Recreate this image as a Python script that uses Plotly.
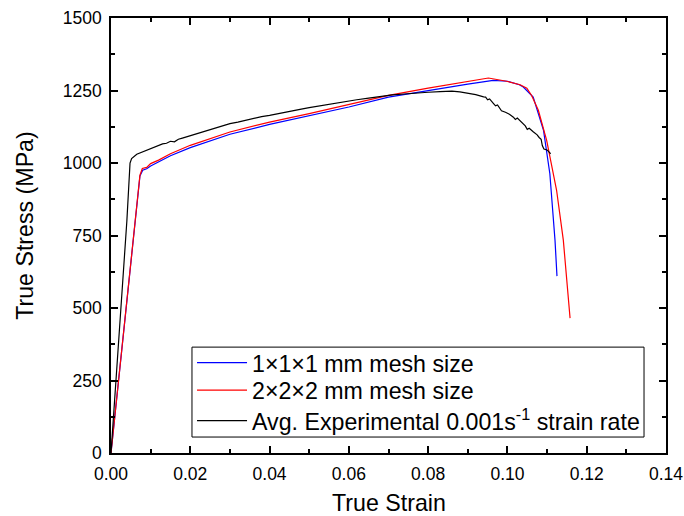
import plotly.graph_objects as go

# ---- data ----
exp_strain = [0.0, 0.0010, 0.0025, 0.0040, 0.0048, 0.0052, 0.0065, 0.0080, 0.0095, 0.0110,
              0.0120, 0.0130, 0.0140, 0.0150, 0.0160, 0.0170, 0.0180, 0.0190, 0.0200, 0.0220,
              0.0240, 0.0260, 0.0280, 0.0300, 0.0320, 0.0340, 0.0360, 0.0380, 0.0400, 0.0420,
              0.0440, 0.0460, 0.0480, 0.0500, 0.0530, 0.0560, 0.0590, 0.0620, 0.0650, 0.0680,
              0.0710, 0.0740, 0.0770, 0.0800, 0.0830, 0.0860, 0.0880, 0.0900, 0.0920, 0.0940,
              0.0945, 0.0950, 0.0955, 0.0965, 0.0970, 0.0975, 0.0985, 0.0995, 0.1005, 0.1015,
              0.1020, 0.1025, 0.1035, 0.1040, 0.1045, 0.1050, 0.1055, 0.1065, 0.1075, 0.1080,
              0.1085, 0.1088, 0.1092, 0.1100, 0.1109]
exp_stress = [0, 200, 500, 800, 1000, 1015, 1030, 1038, 1045, 1055,
              1058, 1066, 1068, 1075, 1073, 1082, 1086, 1090, 1095, 1102,
              1112, 1120, 1128, 1136, 1141, 1148, 1155, 1160, 1164, 1170,
              1176, 1181, 1186, 1191, 1198, 1205, 1213, 1218, 1224, 1230,
              1235, 1238, 1242, 1244, 1246, 1248, 1245, 1240, 1236, 1228,
              1227, 1218, 1221, 1205, 1197, 1200, 1180, 1175, 1168, 1158,
              1150, 1155, 1140, 1132, 1128, 1116, 1120, 1108, 1097, 1088,
              1082, 1060, 1048, 1045, 1032]

mesh2_strain = [0.0, 0.0073, 0.0079, 0.0090, 0.0100, 0.0120, 0.0150, 0.0200, 0.0300, 0.0400,
                0.0500, 0.0600, 0.0700, 0.0800, 0.0900, 0.0952, 0.0998, 0.1032, 0.1049, 0.1061,
                0.1078, 0.1099, 0.1124, 0.1141, 0.1158]
mesh2_stress = [0, 958, 981, 985, 998, 1010, 1032, 1061, 1107, 1141,
                1170, 1201, 1233, 1258, 1281, 1293, 1282, 1270, 1258, 1233,
                1182, 1078, 906, 734, 465]

mesh1_strain = [0.0, 0.0073, 0.0080, 0.0090, 0.0100, 0.0120, 0.0150, 0.0200, 0.0300, 0.0400,
                0.0500, 0.0600, 0.0700, 0.0800, 0.0900, 0.0964, 0.1000, 0.1030, 0.1040, 0.1065,
                0.1078, 0.1091, 0.1107, 0.1120, 0.1125]
mesh1_stress = [0, 955, 975, 980, 990, 1003, 1025, 1053, 1099, 1133,
                1162, 1193, 1227, 1250, 1272, 1285, 1282, 1270, 1262, 1227,
                1170, 1113, 963, 734, 610]

series_names = ["1×1×1 mm mesh size", "2×2×2 mm mesh size",
                "Avg. Experimental 0.001s<sup>-1</sup> strain rate"]
x_ticks = [0.00, 0.02, 0.04, 0.06, 0.08, 0.10, 0.12, 0.14]
x_tick_text = ["0.00", "0.02", "0.04", "0.06", "0.08", "0.10", "0.12", "0.14"]
y_ticks = [0, 250, 500, 750, 1000, 1250, 1500]
x_title = "True Strain"
y_title = "True Stress (MPa)"

FONT = "Arial, Liberation Sans, sans-serif"
BIG = 23.2
LEG_FONT = dict(family=FONT, size=BIG, color="black")

fig = go.Figure()
fig.add_trace(go.Scatter(x=mesh1_strain, y=mesh1_stress, mode="lines",
                         line=dict(color="#0000FF", width=1.2), name=series_names[0],
                         legend="legend"))
fig.add_trace(go.Scatter(x=mesh2_strain, y=mesh2_stress, mode="lines",
                         line=dict(color="#FF0000", width=1.2), name=series_names[1],
                         legend="legend2"))
fig.add_trace(go.Scatter(x=exp_strain, y=exp_stress, mode="lines",
                         line=dict(color="#000000", width=1.2), name=series_names[2],
                         legend="legend3"))

axis_common = dict(showline=True, linecolor="black", linewidth=1.6, mirror="allticks",
                   ticks="inside", ticklen=7, tickwidth=1.5, tickcolor="black",
                   showgrid=False, zeroline=False, automargin=False,
                   tickfont=dict(family=FONT, size=17.5, color="black"))


def leg(ypos):
    return dict(x=0.146, y=ypos, xanchor="left", yanchor="middle",
                borderwidth=0, bgcolor="rgba(0,0,0,0)", font=LEG_FONT,
                itemwidth=50)


fig.update_layout(
    width=684, height=516,
    margin=dict(l=111, r=18, t=18, b=63),
    paper_bgcolor="white", plot_bgcolor="white",
    font=dict(family=FONT, color="black"),
    showlegend=True,
    legend=leg(0.2067),
    legend2=leg(0.1435),
    legend3=leg(0.0735),
    xaxis=dict(range=[0, 0.14], tickvals=x_ticks, ticktext=x_tick_text,
               minor=dict(dtick=0.01, ticks="inside", ticklen=4, tickwidth=1.5, tickcolor="black"),
               ticklabelstandoff=4,
               **axis_common),
    yaxis=dict(range=[0, 1500], tickvals=y_ticks,
               minor=dict(dtick=125, ticks="inside", ticklen=4, tickwidth=1.5, tickcolor="black"),
               ticklabelstandoff=4,
               **axis_common),
    shapes=[dict(type="rect", xref="paper", yref="paper",
                 x0=0.1459, x1=0.9604, y0=0.0367, y1=0.2434,
                 line=dict(color="black", width=1), fillcolor="rgba(0,0,0,0)",
                 layer="above")],
    annotations=[
        dict(text=x_title, xref="paper", yref="paper", x=0.5, y=-0.116,
             xanchor="center", yanchor="middle", showarrow=False,
             font=dict(family=FONT, size=BIG, color="black")),
        dict(text=y_title, xref="paper", yref="paper", x=-0.154, y=0.5235,
             xanchor="center", yanchor="middle", showarrow=False, textangle=-90,
             font=dict(family=FONT, size=BIG, color="black")),
    ],
)

fig.write_html("out.html")
